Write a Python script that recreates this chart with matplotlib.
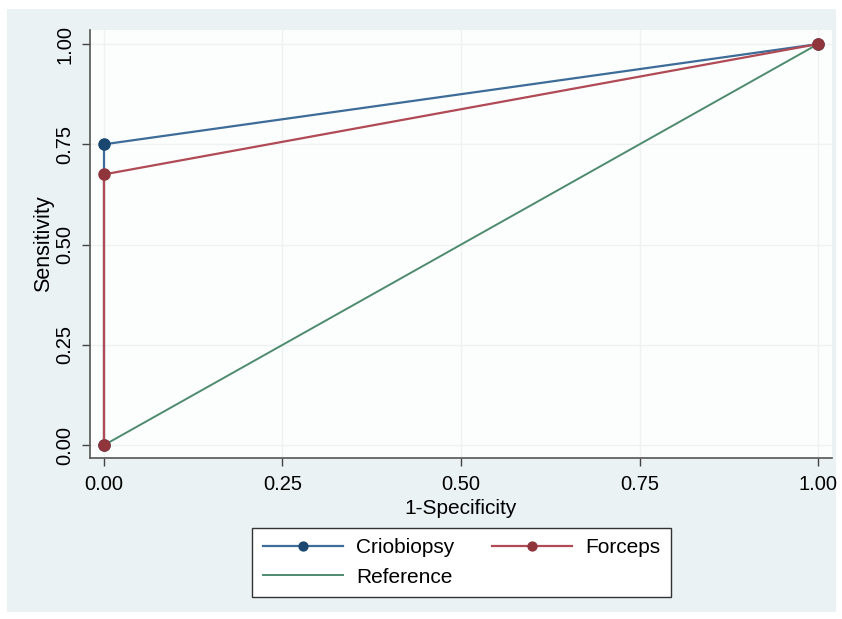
import matplotlib
matplotlib.use('Agg')
import matplotlib.pyplot as plt
from matplotlib.patches import Rectangle

# ROC curve points (1-specificity, sensitivity)
crio_x = [0.0, 0.0, 1.0]
crio_y = [0.0, 0.75, 1.0]
forc_x = [0.0, 0.0, 1.0]
forc_y = [0.0, 0.675, 1.0]
ref_x = [0.0, 1.0]
ref_y = [0.0, 1.0]
ticks = [0.0, 0.25, 0.5, 0.75, 1.0]
tick_labels = ['0.00', '0.25', '0.50', '0.75', '1.00']

plt.rcParams['font.family'] = ['Liberation Sans', 'DejaVu Sans']

fig = plt.figure(figsize=(8.42, 6.19), dpi=100)
fig.patch.set_facecolor('white')
# light graph region behind everything
fig.patches.append(Rectangle((7 / 842, 1 - 612 / 619), 829 / 842, 603 / 619,
                             transform=fig.transFigure, facecolor='#eaf2f4',
                             edgecolor='none', zorder=-5))

ax = fig.add_axes([90 / 842, 1 - 458 / 619, 742 / 842, 428 / 619])
ax.set_zorder(2)
ax.set_facecolor('#fcfefe')

ax.plot(ref_x, ref_y, color='#4e8b6e', lw=1.4, label='Reference', zorder=2)
ax.plot(crio_x, crio_y, color='#3e6c98', lw=1.6, marker='o', ms=8,
        mfc='#1a476f', mec='#1a476f', label='Criobiopsy', zorder=3)
ax.plot(forc_x, forc_y, color='#b04a55', lw=1.6, marker='o', ms=8,
        mfc='#90353b', mec='#90353b', label='Forceps', zorder=4)

ax.set_xlim(-0.0196, 1.0196)
ax.set_ylim(-0.032, 1.035)
ax.set_xticks(ticks)
ax.set_xticklabels(tick_labels)
ax.set_yticks(ticks)
ax.set_yticklabels(tick_labels, rotation=90, va='center')
ax.tick_params(labelsize=14.5, color='#444444', length=5.5, width=1)
ax.tick_params(axis='x', pad=7)
ax.tick_params(axis='y', pad=6)
ax.grid(True, color='#eef2f3', lw=1)
ax.set_axisbelow(True)

for side in ['top', 'right']:
    ax.spines[side].set_visible(False)
for side in ['left', 'bottom']:
    ax.spines[side].set_color('#555555')
    ax.spines[side].set_linewidth(1.2)

ax.set_xlabel('1-Specificity', fontsize=15, labelpad=3)
ax.set_ylabel('Sensitivity', fontsize=15.5, labelpad=1)

h, l = ax.get_legend_handles_labels()
# column-wise fill: Criobiopsy / Reference in col 1, Forceps in col 2
order = [1, 0, 2]
leg = fig.legend([h[i] for i in order], [l[i] for i in order], ncol=2,
                 loc='center', bbox_to_anchor=(461.5 / 842, 1 - 562.5 / 619),
                 fontsize=15, frameon=True, fancybox=False, edgecolor='#333333',
                 handlelength=3.85, columnspacing=1.8, borderpad=0.5,
                 labelspacing=0.5, handletextpad=0.63, markerscale=0.8,
                 framealpha=1)
leg.get_frame().set_linewidth(1.0)
leg.get_frame().set_facecolor('white')

fig.savefig('out.png', dpi=100)
